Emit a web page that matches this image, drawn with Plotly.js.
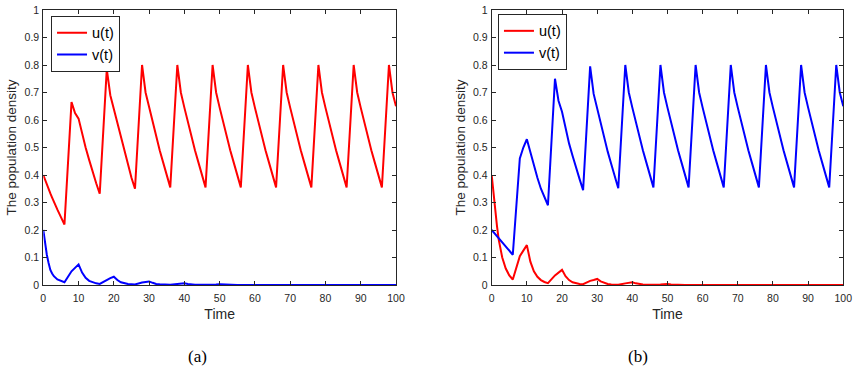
<!DOCTYPE html>
<html>
<head>
<meta charset="utf-8">
<script src="https://cdn.plot.ly/plotly-3.0.1.min.js"></script>
<style>html,body{margin:0;padding:0;background:#fff;}#chart{width:859px;height:376px;}</style>
</head>
<body>
<div id="chart"></div>
<script>
// Time grid
var time = [0,0.5,1,1.5,2,2.5,3,4,5,6,
  8,9,10,11,12,13,14,15,16,
  18,19,20,21,22,23,24,25,26,
  28,29,30,31,32,33,34,35,36,
  38,39,40,41,42,43,44,45,46,
  48,49,50,51,52,53,54,55,56,
  58,59,60,61,62,63,64,65,66,
  68,69,70,71,72,73,74,75,76,
  78,79,80,81,82,83,84,85,86,
  88,89,90,91,92,93,94,95,96,
  98,99,100];

// Panel (a)
var uA = [0.400,0.382,0.365,0.349,0.333,0.318,0.302,0.274,0.247,0.220,
  0.665,0.625,0.605,0.550,0.500,0.455,0.410,0.370,0.332,
  0.785,0.690,0.640,0.580,0.530,0.480,0.435,0.390,0.350,
  0.800,0.700,0.645,0.590,0.540,0.490,0.445,0.400,0.355,
  0.800,0.700,0.645,0.590,0.540,0.490,0.445,0.400,0.355,
  0.800,0.700,0.645,0.590,0.540,0.490,0.445,0.400,0.355,
  0.800,0.700,0.645,0.590,0.540,0.490,0.445,0.400,0.355,
  0.800,0.700,0.645,0.590,0.540,0.490,0.445,0.400,0.355,
  0.800,0.700,0.645,0.590,0.540,0.490,0.445,0.400,0.355,
  0.800,0.700,0.645,0.590,0.540,0.490,0.445,0.400,0.355,
  0.800,0.700,0.650];
var vA = [0.200,0.150,0.110,0.080,0.055,0.042,0.032,0.020,0.014,0.010,
  0.050,0.062,0.075,0.045,0.026,0.015,0.009,0.006,0.004,
  0.020,0.025,0.030,0.018,0.010,0.006,0.004,0.003,0.002,
  0.009,0.011,0.013,0.008,0.004,0.003,0.002,0.001,0.001,
  0.004,0.005,0.006,0.004,0.002,0.001,0.001,0.001,0.000,
  0.002,0.002,0.003,0.002,0.001,0.000,0.000,0.000,0.000,
  0,0,0,0,0,0,0,0,0,
  0,0,0,0,0,0,0,0,0,
  0,0,0,0,0,0,0,0,0,
  0,0,0,0,0,0,0,0,0,
  0,0,0];

// Panel (b)
var uB = [0.400,0.330,0.270,0.215,0.165,0.130,0.100,0.060,0.035,0.020,
  0.105,0.125,0.145,0.085,0.050,0.030,0.018,0.011,0.007,
  0.035,0.045,0.055,0.032,0.018,0.010,0.006,0.004,0.003,
  0.015,0.018,0.022,0.013,0.007,0.004,0.002,0.001,0.001,
  0.006,0.008,0.010,0.006,0.003,0.002,0.001,0.001,0.000,
  0.002,0.003,0.004,0.002,0.001,0,0,0,0,
  0,0,0,0,0,0,0,0,0,
  0,0,0,0,0,0,0,0,0,
  0,0,0,0,0,0,0,0,0,
  0,0,0,0,0,0,0,0,0,
  0,0,0];
var vB = [0.200,0.1925,0.185,0.1775,0.170,0.1625,0.155,0.140,0.125,0.110,
  0.460,0.500,0.530,0.480,0.430,0.390,0.350,0.320,0.290,
  0.750,0.670,0.630,0.570,0.515,0.470,0.425,0.385,0.345,
  0.795,0.695,0.640,0.585,0.535,0.485,0.440,0.395,0.352,
  0.800,0.700,0.645,0.590,0.540,0.490,0.445,0.400,0.355,
  0.800,0.700,0.645,0.590,0.540,0.490,0.445,0.400,0.355,
  0.800,0.700,0.645,0.590,0.540,0.490,0.445,0.400,0.355,
  0.800,0.700,0.645,0.590,0.540,0.490,0.445,0.400,0.355,
  0.800,0.700,0.645,0.590,0.540,0.490,0.445,0.400,0.355,
  0.800,0.700,0.645,0.590,0.540,0.490,0.445,0.400,0.355,
  0.800,0.700,0.650];

var xTicks = [0,10,20,30,40,50,60,70,80,90,100];
var xTickText = ['0','10','20','30','40','50','60','70','80','90','100'];
var yTicks = [0,0.1,0.2,0.3,0.4,0.5,0.6,0.7,0.8,0.9,1];
var yTickText = ['0','0.1','0.2','0.3','0.4','0.5','0.6','0.7','0.8','0.9','1'];
var seriesNames = ['u(t)','v(t)'];
var panelLabels = ['(a)','(b)'];
var xTitle = 'Time';
var yTitle = 'The population density';

var RED = '#ff0000', BLUE = '#0000ff', AX = '#262626';
var traces = [
  {x: time, y: uA, name: seriesNames[0], xaxis:'x', yaxis:'y', legend:'legend', line:{color:RED, width:2}},
  {x: time, y: vA, name: seriesNames[1], xaxis:'x', yaxis:'y', legend:'legend', line:{color:BLUE, width:2}},
  {x: time, y: uB, name: seriesNames[0], xaxis:'x2', yaxis:'y2', legend:'legend2', line:{color:RED, width:2}},
  {x: time, y: vB, name: seriesNames[1], xaxis:'x2', yaxis:'y2', legend:'legend2', line:{color:BLUE, width:2}}
];
traces.forEach(function(t){ t.mode='lines'; t.type='scatter'; });

function xa(dom){
  return {domain: dom, range:[0,100], tickvals: xTicks, ticktext: xTickText,
    ticks:'inside', ticklen:4, tickcolor:AX, showline:true, linecolor:AX, linewidth:1,
    mirror:'ticks', showgrid:false, zeroline:false, fixedrange:true, ticklabelstandoff:3,
    tickfont:{family:'Liberation Sans, Arial, sans-serif', size:10.5, color:AX},
    title:{text:xTitle, standoff:6, font:{family:'Liberation Sans, Arial, sans-serif', size:14, color:AX}}};
}
function ya(anchor){
  return {domain:[0.242,0.9734], range:[0,1], tickvals: yTicks, ticktext: yTickText, anchor: anchor,
    ticks:'inside', ticklen:4, tickcolor:AX, showline:true, linecolor:AX, linewidth:1,
    mirror:'ticks', showgrid:false, zeroline:false, fixedrange:true, ticklabelstandoff:1,
    tickfont:{family:'Liberation Sans, Arial, sans-serif', size:10.5, color:AX},
    title:{text:yTitle, standoff:4, font:{family:'Liberation Sans, Arial, sans-serif', size:13.5, color:AX}}};
}
var legendBase = {bgcolor:'#ffffff', bordercolor:AX, borderwidth:1, xanchor:'left', yanchor:'top',
  font:{family:'Liberation Sans, Arial, sans-serif', size:14.5, color:'#000'}, itemwidth:30, tracegroupgap:0};

var layout = {
  width:859, height:376, margin:{l:0,r:0,t:0,b:0},
  paper_bgcolor:'#fff', plot_bgcolor:'#fff', showlegend:true,
  xaxis: Object.assign(xa([0.0504,0.4610]), {anchor:'y'}),
  yaxis: ya('x'),
  xaxis2: Object.assign(xa([0.5724,0.9817]), {anchor:'y2'}),
  yaxis2: ya('x2'),
  legend: Object.assign({}, legendBase, {x:0.0594, y:0.958}),
  legend2: Object.assign({}, legendBase, {x:0.5797, y:0.963}),
  annotations: [
    {text: panelLabels[0], xref:'paper', yref:'paper', x:197/859, y:1-356/376, showarrow:false,
     xanchor:'center', yanchor:'middle', font:{family:'Liberation Serif, DejaVu Serif, serif', size:17, color:'#000'}},
    {text: panelLabels[1], xref:'paper', yref:'paper', x:638/859, y:1-356/376, showarrow:false,
     xanchor:'center', yanchor:'middle', font:{family:'Liberation Serif, DejaVu Serif, serif', size:17, color:'#000'}}
  ]
};
Plotly.newPlot('chart', traces, layout, {staticPlot:true, displayModeBar:false});
</script>
</body>
</html>
